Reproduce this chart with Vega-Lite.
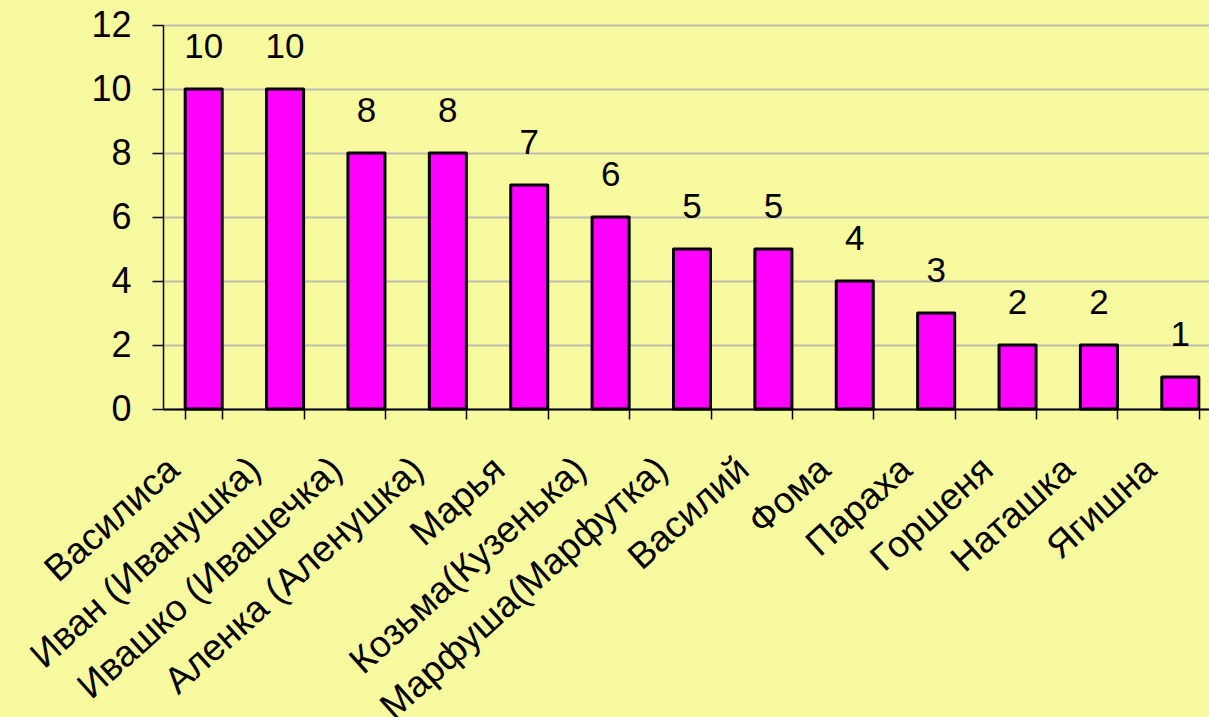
{
  "$schema": "https://vega.github.io/schema/vega-lite/v6.json",
  "width": 1058,
  "height": 384,
  "autosize": "none",
  "padding": {"left": 163, "top": 25, "right": 0, "bottom": 308},
  "background": "#F7FA9E",
  "config": {
    "view": {"stroke": null},
    "font": "Liberation Sans"
  },
  "data": {
    "values": [
      {"name": "Василиса", "value": 10},
      {"name": "Иван (Иванушка)", "value": 10},
      {"name": "Ивашко (Ивашечка)", "value": 8},
      {"name": "Аленка (Аленушка)", "value": 8},
      {"name": "Марья", "value": 7},
      {"name": "Козьма(Кузенька)", "value": 6},
      {"name": "Марфуша(Марфутка)", "value": 5},
      {"name": "Василий", "value": 5},
      {"name": "Фома", "value": 4},
      {"name": "Параха", "value": 3},
      {"name": "Горшеня", "value": 2},
      {"name": "Наташка", "value": 2},
      {"name": "Ягишна", "value": 1}
    ]
  },
  "encoding": {
    "x": {
      "field": "name",
      "type": "nominal",
      "sort": null,
      "title": null,
      "scale": {"paddingInner": 0.545, "paddingOuter": 0.2725},
      "axis": {
        "domainColor": "#000000",
        "domainWidth": 2,
        "tickColor": "#000000",
        "tickWidth": 1.5,
        "tickSize": 10,
        "tickBand": "extent",
        "labelAngle": -42,
        "labelAlign": "right",
        "labelBaseline": "middle",
        "labelFontSize": 37,
        "labelColor": "#000000",
        "labelPadding": 45,
        "labelOffset": -30,
        "labelLimit": 0,
        "labelOverlap": false
      }
    },
    "y": {
      "field": "value",
      "type": "quantitative",
      "title": null,
      "scale": {"domain": [0, 12]},
      "axis": {
        "values": [0, 2, 4, 6, 8, 10, 12],
        "domainColor": "#000000",
        "domainWidth": 1.5,
        "tickColor": "#000000",
        "tickWidth": 1.5,
        "tickSize": 11,
        "labelFontSize": 36,
        "labelColor": "#000000",
        "labelPadding": 21,
        "gridColor": "#BDBDB0",
        "gridWidth": 2
      }
    }
  },
  "layer": [
    {
      "mark": {"type": "bar", "fill": "#FF00FF", "stroke": "#000000", "strokeWidth": 3, "strokeJoin": "round"}
    },
    {
      "mark": {"type": "text", "baseline": "alphabetic", "dy": -31, "fontSize": 35, "color": "#000000"},
      "encoding": {"text": {"field": "value", "type": "quantitative"}}
    }
  ]
}
